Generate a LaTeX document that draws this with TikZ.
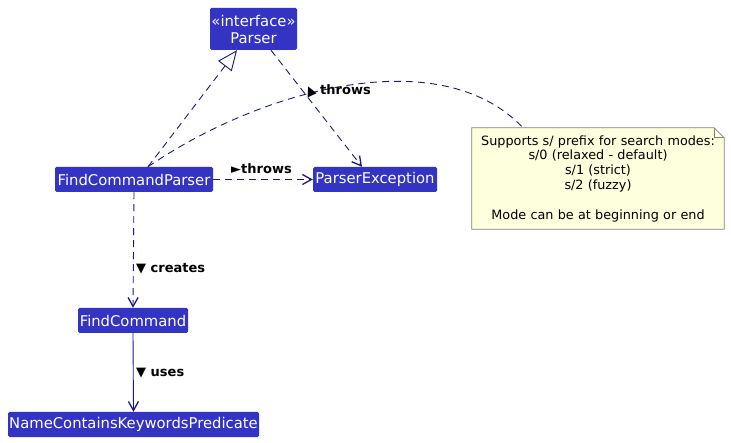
\documentclass[tikz,border=0pt]{standalone}
\usepackage{fontspec}
\setmainfont{DejaVu Sans}
\usetikzlibrary{arrows.meta}
\definecolor{clsblue}{RGB}{51,51,196}
\definecolor{edgec}{RGB}{24,24,136}
\definecolor{notefill}{RGB}{254,255,221}
\definecolor{noteborder}{RGB}{128,128,128}
\begin{document}
\begin{tikzpicture}[x=1pt,y=-1pt,
  clsbox/.style={fill=clsblue, text=white, rounded corners=1.5pt, inner sep=0pt,
    font=\fontsize{14.8}{17}\selectfont, align=center},
  lbl/.style={font=\bfseries\fontsize{13}{15}\selectfont, text=black, inner sep=0pt},
  dep/.style={draw=edgec, line width=0.9pt, dash pattern=on 7pt off 5pt,
    -{Straight Barb[length=9pt,width=10pt,line width=1.3pt]}},
  assoc/.style={draw=edgec, line width=0.9pt,
    -{Straight Barb[length=9pt,width=10pt,line width=1.3pt]}},
  real/.style={draw=edgec, line width=0.9pt, dash pattern=on 7pt off 5pt,
    -{Triangle[open, length=20pt, width=17pt, line width=0.9pt, fill=white]}},
  notelink/.style={draw=edgec, line width=0.9pt, dash pattern=on 7pt off 5pt},
  notebox/.style={inner sep=0pt, align=center, font=\fontsize{12.8}{14.8}\selectfont, text=black}
]
\useasboundingbox (0,0) rectangle (731,443);

\node[clsbox, minimum width=87, minimum height=42] (parser) at (253.5,29) {«interface»\\Parser};
\node[clsbox, minimum width=158, minimum height=25] (fcp) at (134,179.5) {FindCommandParser};
\node[clsbox, minimum width=124, minimum height=25] (pe) at (375,179.5) {ParserException};
\node[clsbox, minimum width=110, minimum height=25] (fc) at (133,320.5) {FindCommand};
\node[clsbox, minimum width=251, minimum height=25] (nck) at (133.5,424.5) {NameContainsKeywordsPredicate};

% note
\path (598,178.5) node[minimum width=252, minimum height=101, inner sep=0pt] (note) {};
\fill[notefill] (note.north west) -- ([xshift=-10pt]note.north east) -- ([yshift=-10pt]note.north east)
  -- (note.south east) -- (note.south west) -- cycle;
\node[notebox, text width=250] (notetext) at (598,178.5)
  {Supports s/ prefix for search modes:\\s/0 (relaxed - default)\\s/1 (strict)\\s/2 (fuzzy)\\[14.8pt]Mode can be at beginning or end};
\draw[noteborder, line width=0.8pt] (note.north west) -- ([xshift=-10pt]note.north east) -- ([yshift=-10pt]note.north east)
  -- (note.south east) -- (note.south west) -- cycle;
\draw[noteborder, line width=0.8pt] ([xshift=-10pt]note.north east) -- ([xshift=-10pt,yshift=-10pt]note.north east) -- ([yshift=-10pt]note.north east);

% edges
\draw[real] ([xshift=14pt]fcp.north) -- ([xshift=-16.5pt]parser.south);
\draw[dep] ([xshift=17.5pt]parser.south) -- ([xshift=-13pt]pe.north);
\draw[dep] (fcp.east) -- (pe.west);
\draw[dep] (fcp.south) -- (fc.north);
\draw[assoc] (fc.south) -- (nck.north);
\draw[notelink] ([xshift=14pt]fcp.north) .. controls (260,90) and (440,40) .. ([xshift=-75pt]note.north);

% labels
\node[lbl, anchor=west] (l1) at (231,169) {►throws};
\node[lbl, anchor=west] (l2) at (136,269) {▼ creates};
\node[lbl, anchor=west] (l3) at (136,373) {▼ uses};
\node[lbl, anchor=west] (l4) at (320,90) {throws};
\node[lbl, rotate=25, anchor=east] (l4t) at (315,89) {▲};
\end{tikzpicture}
\end{document}
